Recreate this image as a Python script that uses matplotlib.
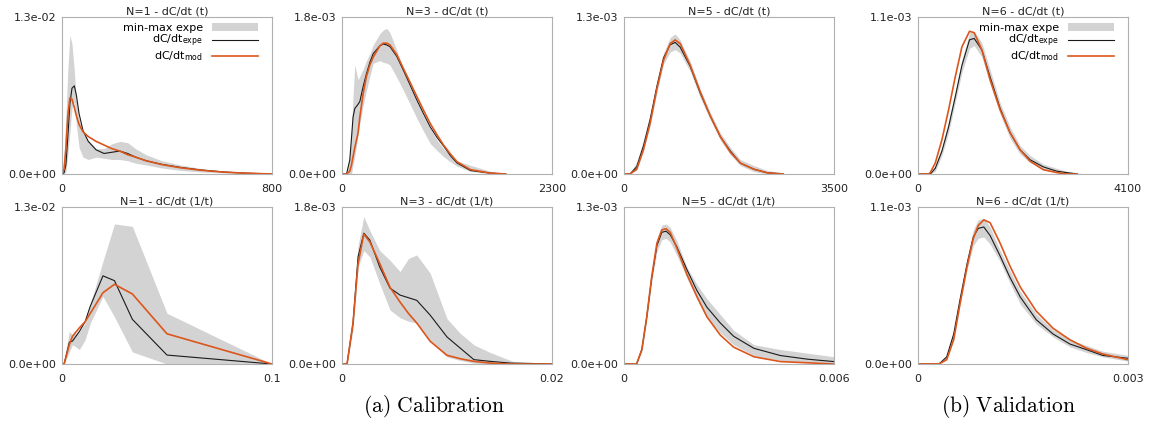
import matplotlib
matplotlib.use('Agg')
import matplotlib.pyplot as plt

plt.rcParams['font.family'] = ['DejaVu Sans']
plt.rcParams['mathtext.default'] = 'regular'

# ---- N=1, dC/dt vs t
n1_t_x = [0, 8, 15, 22, 30, 38, 47, 55, 65, 80, 100, 130, 160, 190, 220, 250, 280, 320, 380, 450, 530, 620, 700, 800]
n1_t_expe = [0, 0.0001, 0.0008, 0.003, 0.0058, 0.0071, 0.0073, 0.0065, 0.0050, 0.0036, 0.0027, 0.0020, 0.0017, 0.0018,
             0.0019, 0.0017, 0.0014, 0.0011, 0.0008, 0.00055, 0.00033, 0.00016, 0.00007, 0.0]
n1_t_mod = [0, 0.0004, 0.0022, 0.0048, 0.0063, 0.0062, 0.0055, 0.0048, 0.0041, 0.0035, 0.0031, 0.0027, 0.0024, 0.0021,
            0.0019, 0.0016, 0.0014, 0.0011, 0.00078, 0.00052, 0.00031, 0.00015, 0.00007, 0.0]
n1_t_hi = [0, 0.0015, 0.0048, 0.0085, 0.0115, 0.0108, 0.0085, 0.0060, 0.0045, 0.0035, 0.0028, 0.0021, 0.0021, 0.0025,
           0.0027, 0.0026, 0.0021, 0.0016, 0.0011, 0.00075, 0.00045, 0.00024, 0.0001, 0.0]
n1_t_lo = [0, 0, 0.0002, 0.0015, 0.0034, 0.0055, 0.0060, 0.0040, 0.0022, 0.0014, 0.0012, 0.0014, 0.0013, 0.0012,
           0.0012, 0.0011, 0.0009, 0.00075, 0.0005, 0.0003, 0.00017, 0.00008, 0.00003, 0.0]

# ---- N=3, dC/dt vs t
n3_t_x = [0, 50, 85, 103, 121, 140, 176, 195, 231, 268, 305, 342, 415, 452, 489, 525, 599, 672, 746, 819, 893, 966,
          1040, 1113, 1187, 1260, 1407, 1628, 1793]
n3_t_expe = [0, 0, 0.00016, 0.0004, 0.00065, 0.00075, 0.0008, 0.00083, 0.001, 0.00115, 0.00128, 0.00138, 0.00147,
             0.00149, 0.00148, 0.00146, 0.00135, 0.00119, 0.00102, 0.00085, 0.00069, 0.00054, 0.00042, 0.00032,
             0.00021, 0.000126, 0.00004, 0.00001, 0]
n3_t_mod = [0, 0, 0.00003, 0.0001, 0.0002, 0.0003, 0.00047, 0.00065, 0.00092, 0.00112, 0.00125, 0.00134, 0.00147,
            0.0015, 0.0015, 0.00148, 0.00137, 0.00121, 0.00105, 0.00089, 0.00073, 0.00058, 0.00045, 0.00033,
            0.00023, 0.00014, 0.00005, 0.00001, 0]
n3_t_hi = [0, 0, 0.0002, 0.00047, 0.0009, 0.00125, 0.00108, 0.00112, 0.0012, 0.0013, 0.00138, 0.00148, 0.00161,
           0.00165, 0.00167, 0.00162, 0.00142, 0.00121, 0.001, 0.00083, 0.00066, 0.00052, 0.00039, 0.00029,
           0.0002, 0.00015, 0.0001, 0.00003, 0.00001]
n3_t_lo = [0, 0, 0, 0, 0.0001, 0.0002, 0.00045, 0.00058, 0.00078, 0.00096, 0.00112, 0.00127, 0.0013, 0.00128,
           0.00127, 0.00125, 0.00111, 0.00096, 0.0008, 0.00064, 0.00049, 0.00035, 0.00027, 0.0002, 0.00014,
           0.00009, 0.00003, 0, 0]

# ---- N=5, dC/dt vs t
n5_t_x = [0, 100, 212, 323, 435, 546, 658, 769, 853, 936, 1104, 1271, 1438, 1605, 1773, 1940, 2163, 2386, 2653]
n5_t_expe = [0, 0, 0.00006, 0.00023, 0.00045, 0.00072, 0.00096, 0.00107, 0.00109, 0.00105, 0.00089, 0.00067,
             0.00048, 0.00031, 0.00019, 0.00009, 0.00004, 0.00001, 0]
n5_t_mod = [0, 0, 0.00004, 0.0002, 0.00042, 0.0007, 0.00094, 0.00108, 0.00111, 0.00108, 0.0009, 0.00068,
            0.00048, 0.00031, 0.00018, 0.00009, 0.00004, 0.00001, 0]
n5_t_hi = [0, 0.00001, 0.0001, 0.00028, 0.0005, 0.00077, 0.001, 0.00113, 0.00116, 0.00111, 0.00093, 0.0007,
           0.00051, 0.00034, 0.00022, 0.00012, 0.00007, 0.00003, 0.00001]
n5_t_lo = [0, 0, 0.00003, 0.00019, 0.0004, 0.00067, 0.00091, 0.00101, 0.00103, 0.001, 0.00085, 0.00063,
           0.00045, 0.00028, 0.00016, 0.00007, 0.00002, 0, 0]

# ---- N=6, dC/dt vs t
n6_t_x = [0, 208, 240, 337, 467, 597, 727, 857, 1006, 1097, 1246, 1408, 1603, 1797, 1992, 2187, 2446, 2706, 2900, 3108]
n6_t_expe = [0, 0, 0, 0.00004, 0.00016, 0.00033, 0.00054, 0.00076, 0.00094, 0.00095, 0.00087, 0.00068, 0.00046,
             0.00029, 0.00017, 0.0001, 0.00005, 0.00002, 0.00001, 0]
n6_t_mod = [0, 0, 0.00001, 0.000077, 0.00024, 0.00045, 0.00068, 0.00089, 0.001, 0.00099, 0.00087, 0.00066, 0.00045,
            0.00029, 0.00017, 0.00009, 0.00003, 0.00001, 0, 0]
n6_t_hi = [0, 0, 0.00001, 0.00006, 0.00019, 0.00037, 0.00058, 0.0008, 0.00099, 0.001, 0.00092, 0.00073, 0.0005,
           0.00033, 0.0002, 0.00013, 0.00007, 0.00004, 0.00002, 0.00001]
n6_t_lo = [0, 0, 0, 0.00002, 0.00013, 0.00029, 0.0005, 0.00071, 0.00088, 0.0009, 0.00082, 0.00063, 0.00042,
           0.00025, 0.00014, 0.00008, 0.00003, 0.00001, 0, 0]

# ---- N=1, dC/dt vs 1/t
n1_i_x = [0, 0.001, 0.0035, 0.005, 0.0083, 0.011, 0.0135, 0.0195, 0.025, 0.0335, 0.05, 0.1]
n1_i_expe = [0, 0.0, 0.0018, 0.0019, 0.0027, 0.0035, 0.0048, 0.0073, 0.0069, 0.0037, 0.00074, 0]
n1_i_mod = [0, 0.0, 0.0016, 0.0023, 0.003, 0.0035, 0.0042, 0.0059, 0.0066, 0.0058, 0.0025, 0]
n1_i_hi = [0, 0.0003, 0.0027, 0.0024, 0.0027, 0.0034, 0.0050, 0.0085, 0.0116, 0.0114, 0.0042, 0]
n1_i_lo = [0, 0, 0.0010, 0.0016, 0.0012, 0.0020, 0.0034, 0.0056, 0.0039, 0.0010, 0.0, 0]

# ---- N=3, dC/dt vs 1/t
n3_i_x = [0, 0.00048, 0.00105, 0.00153, 0.00208, 0.00265, 0.0036, 0.00457, 0.00553, 0.00633, 0.00712, 0.0084,
          0.01, 0.01128, 0.01256, 0.01415, 0.01607, 0.0167, 0.02]
n3_i_expe = [0, 0, 0.00047, 0.00123, 0.0015, 0.00142, 0.00111, 0.00087, 0.00079, 0.00076, 0.00073, 0.00056,
             0.00031, 0.00018, 0.00005, 0.00003, 0.00001, 0.00001, 0]
n3_i_mod = [0, 0, 0.00047, 0.00115, 0.00149, 0.0014, 0.00115, 0.00088, 0.00071, 0.00058, 0.00047, 0.00026,
            0.0001, 0.00006, 0.00003, 0.00001, 0, 0, 0]
n3_i_hi = [0, 0, 0.00054, 0.00136, 0.00169, 0.00153, 0.0013, 0.00119, 0.00106, 0.00121, 0.00125, 0.00104,
           0.00052, 0.00035, 0.00022, 0.00013, 0.00004, 0.00001, 0.00001]
n3_i_lo = [0, 0, 0.00039, 0.00111, 0.0013, 0.00123, 0.00092, 0.00062, 0.00053, 0.00049, 0.00047, 0.00026,
           0.00008, 0.00004, 0.00001, 0, 0, 0, 0]

# ---- N=5, dC/dt vs 1/t
n5_i_x = [0, 0.00036, 0.00051, 0.00065, 0.00079, 0.00094, 0.00108, 0.0012, 0.00132, 0.00151, 0.0018, 0.00208,
          0.00237, 0.00275, 0.00313, 0.00371, 0.00447, 0.00524, 0.006]
n5_i_expe = [0, 0, 0.00012, 0.00039, 0.00071, 0.00098, 0.00109, 0.0011, 0.00107, 0.00097, 0.00078, 0.00061,
             0.00047, 0.00034, 0.00023, 0.00013, 0.00007, 0.00004, 0.00002]
n5_i_mod = [0, 0, 0.00012, 0.00039, 0.00072, 0.001, 0.00111, 0.00112, 0.00109, 0.00096, 0.00074, 0.00056,
            0.00039, 0.00024, 0.00014, 0.00006, 0.00002, 0.00001, 0]
n5_i_hi = [0, 0, 0.00014, 0.00042, 0.00075, 0.00104, 0.00115, 0.00116, 0.00113, 0.00102, 0.0008, 0.00066,
           0.00054, 0.00041, 0.00028, 0.00016, 0.00012, 0.00009, 0.00006]
n5_i_lo = [0, 0, 0.0001, 0.00036, 0.00067, 0.00093, 0.00103, 0.00104, 0.00101, 0.0009, 0.00071, 0.00054,
           0.00038, 0.00026, 0.00016, 0.00007, 0.00003, 0.00001, 0]

# ---- N=6, dC/dt vs 1/t
n6_i_x = [0, 0.0003, 0.00041, 0.00051, 0.0006, 0.0007, 0.00079, 0.00086, 0.00094, 0.00103, 0.00117, 0.00131,
          0.00146, 0.00169, 0.00193, 0.00217, 0.00241, 0.00264, 0.003]
n6_i_expe = [0, 0, 0.00005, 0.00021, 0.00045, 0.0007, 0.00089, 0.00095, 0.00096, 0.0009, 0.00076, 0.00061,
             0.00047, 0.00031, 0.00021, 0.00014, 0.0001, 0.00006, 0.00004]
n6_i_mod = [0, 0, 0.00003, 0.00017, 0.00042, 0.00068, 0.00088, 0.00097, 0.00101, 0.00099, 0.00085, 0.00069,
            0.00054, 0.00037, 0.00025, 0.00017, 0.00011, 0.00007, 0.00003]
n6_i_hi = [0, 0, 0.00006, 0.00023, 0.00048, 0.00074, 0.00094, 0.00101, 0.00102, 0.00096, 0.0008, 0.00066,
           0.00051, 0.00035, 0.00024, 0.00017, 0.00013, 0.00009, 0.00006]
n6_i_lo = [0, 0, 0.00004, 0.00019, 0.00042, 0.00066, 0.00083, 0.00088, 0.00089, 0.00084, 0.00072, 0.00057,
           0.00042, 0.00028, 0.00019, 0.00012, 0.00008, 0.00005, 0.00002]

titles = ['N=1 - dC/dt (t)', 'N=3 - dC/dt (t)', 'N=5 - dC/dt (t)', 'N=6 - dC/dt (t)',
          'N=1 - dC/dt (1/t)', 'N=3 - dC/dt (1/t)', 'N=5 - dC/dt (1/t)', 'N=6 - dC/dt (1/t)']
xmax = [800, 2300, 3500, 4100, 0.1, 0.02, 0.006, 0.003]
ymax = [0.013, 0.0018, 0.0013, 0.0011, 0.013, 0.0018, 0.0013, 0.0011]

panels = [
    (n1_t_x, n1_t_lo, n1_t_hi, n1_t_expe, n1_t_mod),
    (n3_t_x, n3_t_lo, n3_t_hi, n3_t_expe, n3_t_mod),
    (n5_t_x, n5_t_lo, n5_t_hi, n5_t_expe, n5_t_mod),
    (n6_t_x, n6_t_lo, n6_t_hi, n6_t_expe, n6_t_mod),
    (n1_i_x, n1_i_lo, n1_i_hi, n1_i_expe, n1_i_mod),
    (n3_i_x, n3_i_lo, n3_i_hi, n3_i_expe, n3_i_mod),
    (n5_i_x, n5_i_lo, n5_i_hi, n5_i_expe, n5_i_mod),
    (n6_i_x, n6_i_lo, n6_i_hi, n6_i_expe, n6_i_mod),
]

W, H = 1153, 425
lefts = [62, 342, 624, 918]
width = 210
tops = [17, 207]
height = 157
orange = '#dc561c'
txt = '#222222'

fig = plt.figure(figsize=(W / 100, H / 100), dpi=100)

for i, (x, lo, hi, expe, mod) in enumerate(panels):
    row, col = divmod(i, 4)
    ax = fig.add_axes([lefts[col] / W, 1 - (tops[row] + height) / H, width / W, height / H])
    ax.fill_between(x, lo, hi, color='#d3d3d3', lw=0, label='min-max expe')
    ax.plot(x, expe, color='#1a1a1a', lw=0.8, label='dC/dt$_{expe}$')
    ax.plot(x, mod, color=orange, lw=1.2, label='dC/dt$_{mod}$')
    ax.set_xlim(0, xmax[i])
    ax.set_ylim(0, ymax[i])
    ax.set_xticks([0, xmax[i]])
    ax.set_xticklabels(['0', f'{xmax[i]:g}'])
    ax.set_yticks([0, ymax[i]])
    ax.set_yticklabels([f'{0:.1e}', f'{ymax[i]:.1e}'])
    ax.tick_params(length=0, labelsize=8, colors=txt)
    ax.tick_params(axis='x', pad=7)
    ax.tick_params(axis='y', pad=4)
    for s in ax.spines.values():
        s.set_color('#b0b0b0')
        s.set_linewidth(0.8)
    ax.set_title(titles[i], fontsize=8, color=txt, pad=2)
    if i in (0, 3):
        ax.legend(loc='upper right', bbox_to_anchor=(0.94, 0.97), frameon=False, markerfirst=False,
                  fontsize=8, handlelength=4.2, handletextpad=0.8, labelspacing=0.02,
                  borderaxespad=0.0, borderpad=0.1)

fig.text(434 / W, 1 - 406 / H, r'$\mathrm{(a)\ Calibration}$', ha='center', va='center',
         fontsize=15.5, math_fontfamily='cm')
fig.text(1009 / W, 1 - 406 / H, r'$\mathrm{(b)\ Validation}$', ha='center', va='center',
         fontsize=15.5, math_fontfamily='cm')

fig.savefig('out.png', dpi=100)
